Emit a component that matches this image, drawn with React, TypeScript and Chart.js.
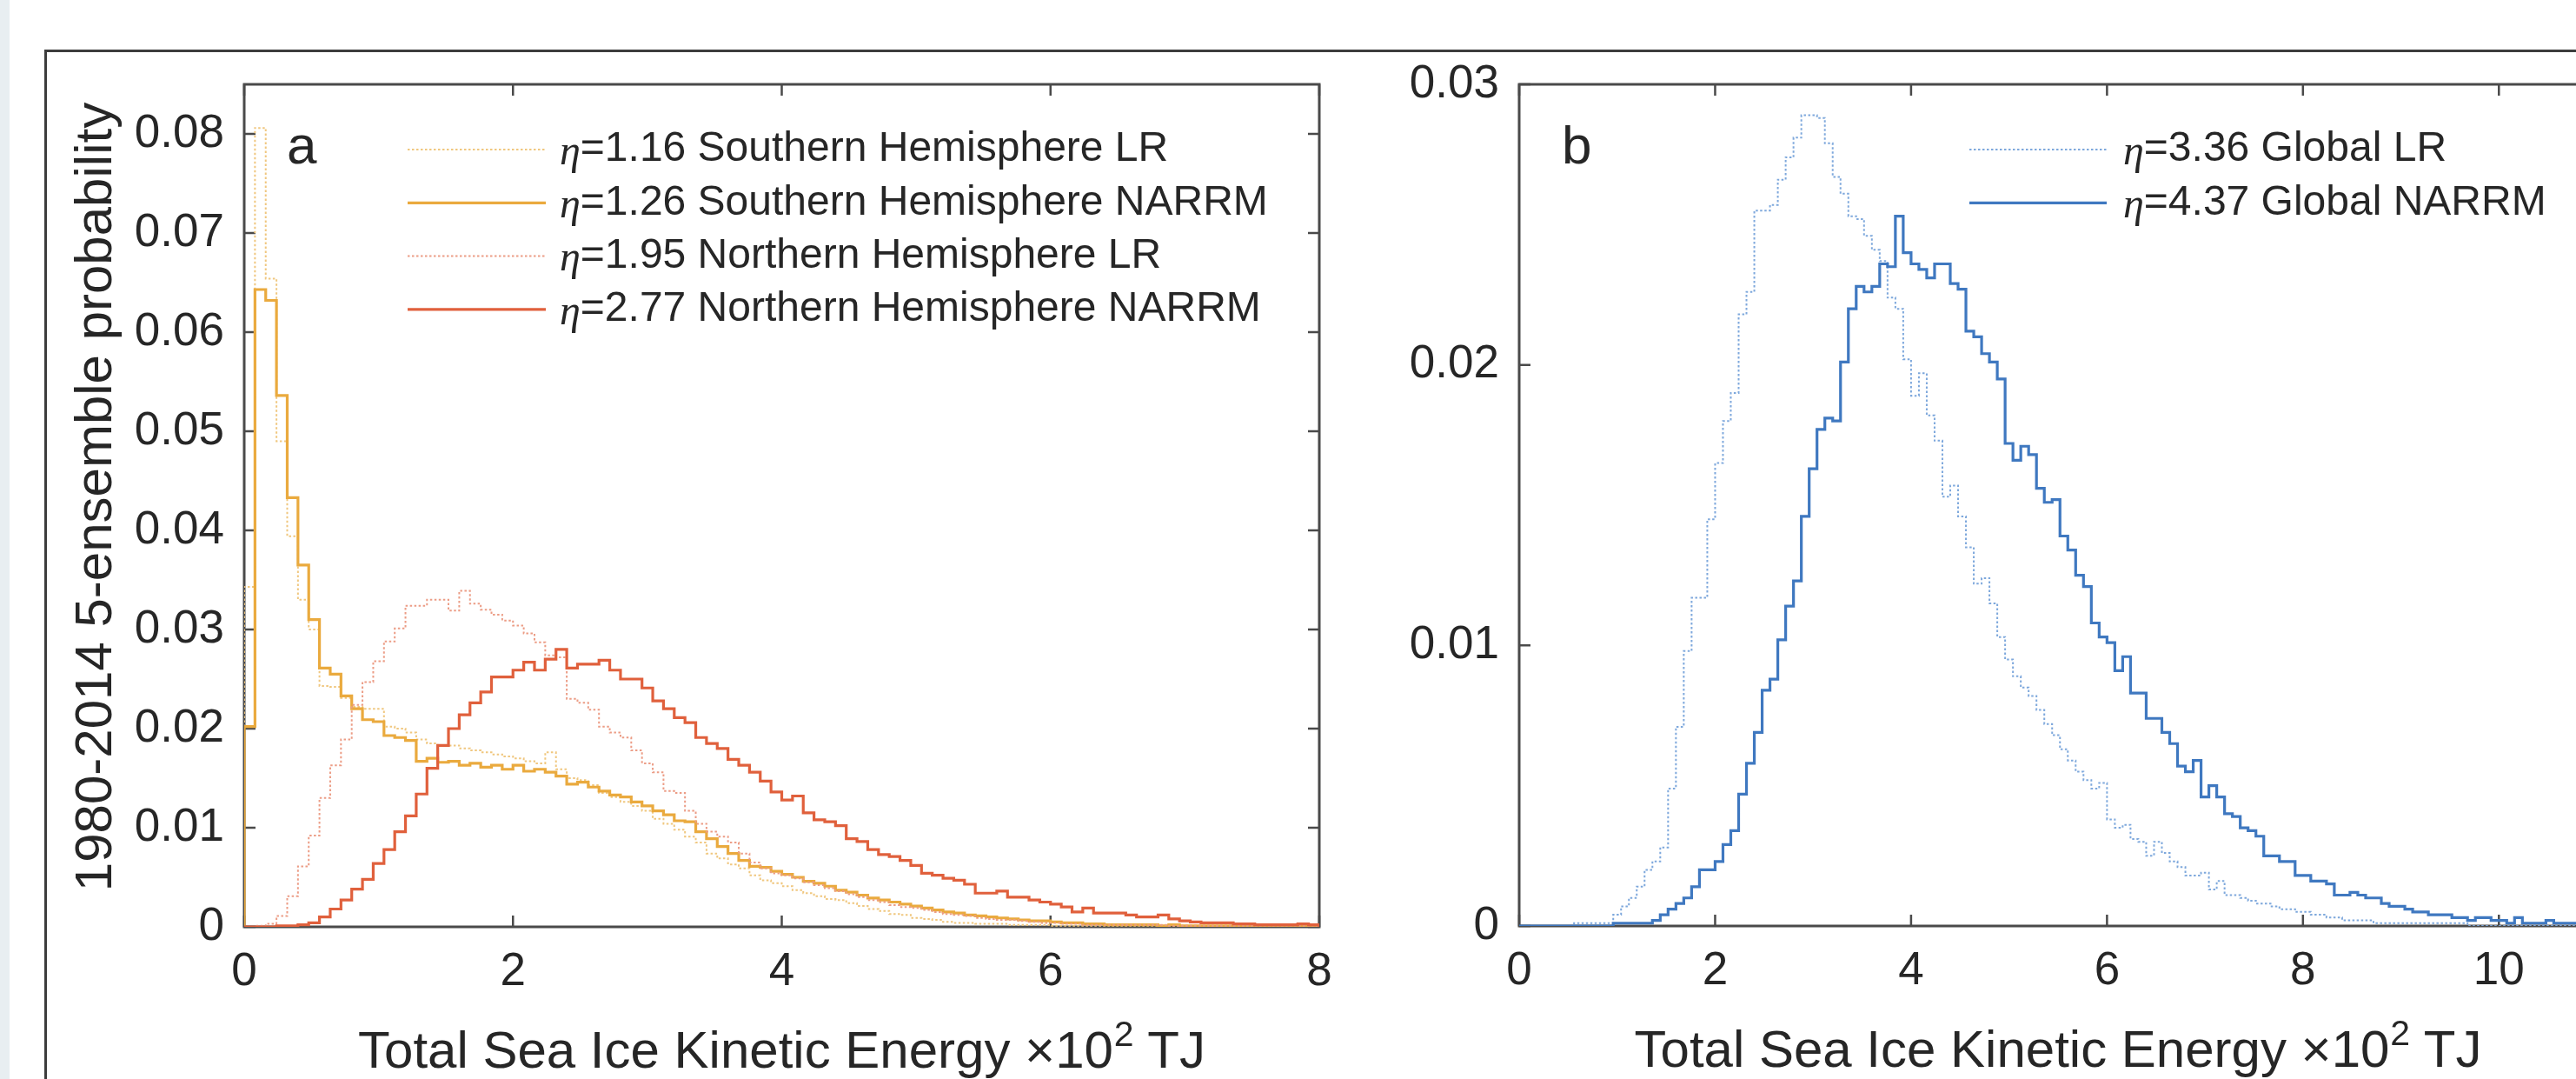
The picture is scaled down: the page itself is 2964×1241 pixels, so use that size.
import React, { useEffect, useRef } from 'react';
import { Chart, registerables } from 'chart.js';

Chart.register(...registerables);

// ---------------- data ----------------
const BIN_WIDTH = 0.08;

const A_X_RANGE = [0, 8];
const A_Y_RANGE = [0, 0.085];
const A_X_TICKS = [0, 2, 4, 6, 8];
const A_X_TICK_LABELS = ['0', '2', '4', '6', '8'];
const A_Y_TICKS = [0, 0.01, 0.02, 0.03, 0.04, 0.05, 0.06, 0.07, 0.08];
const A_Y_TICK_LABELS = ['0', '0.01', '0.02', '0.03', '0.04', '0.05', '0.06', '0.07', '0.08'];

const B_X_RANGE = [0, 11];
const B_Y_RANGE = [0, 0.03];
const B_X_TICKS = [0, 2, 4, 6, 8, 10];
const B_X_TICK_LABELS = ['0', '2', '4', '6', '8', '10'];
const B_Y_TICKS = [0, 0.01, 0.02, 0.03];
const B_Y_TICK_LABELS = ['0', '0.01', '0.02', '0.03'];

const A_ETA = ['1.16', '1.26', '1.95', '2.77'];
const A_NAMES = ['Southern Hemisphere LR', 'Southern Hemisphere NARRM', 'Northern Hemisphere LR', 'Northern Hemisphere NARRM'];
const B_ETA = ['3.36', '4.37'];
const B_NAMES = ['Global LR', 'Global NARRM'];

const X_TITLE_MAIN = 'Total Sea Ice Kinetic Energy \u00d710';
const X_TITLE_SUP = '2';
const X_TITLE_TAIL = ' TJ';
const Y_TITLE = '1980-2014 5-ensemble probability';

const SH_LR = [
  0.0343, 0.0806, 0.0654, 0.0490, 0.0394, 0.0330, 0.0300, 0.0243, 0.0242, 0.0231,
  0.0222, 0.0220, 0.0220, 0.0202, 0.0200, 0.0196, 0.0189, 0.0185, 0.0183, 0.0183,
  0.0180, 0.0178, 0.0176, 0.0174, 0.0172, 0.0170, 0.0167, 0.0165, 0.0176, 0.0159,
  0.0150, 0.0148, 0.0143, 0.0135, 0.0131, 0.0126, 0.0122, 0.0117, 0.0109, 0.0104,
  0.0098, 0.0091, 0.0085, 0.0074, 0.0069, 0.0063, 0.0059, 0.0052, 0.0047, 0.0044,
  0.0041, 0.0037, 0.0034, 0.0031, 0.0028, 0.0027, 0.0024, 0.0021, 0.0018, 0.0016,
  0.0013, 0.0012, 0.0009, 0.0008, 0.0007, 0.0005, 0.0004, 0.0004, 0.0003, 0.0003,
  0.0003, 0.0002, 0.0002, 0.0002, 0.0002, 0.0001, 0.0001, 0.0001, 0.0001, 0.0001,
  0.0001, 0.0001, 0.0001, 0.0001, 0.0001, 0.0001, 0.0001, 0.0001, 0.0001, 0.0001,
  0.0001, 0.0001, 0.0001, 0.0000, 0.0001, 0.0000, 0.0000, 0.0001, 0.0000, 0.0000,
];

const SH_NARRM = [
  0.0202, 0.0643, 0.0632, 0.0536, 0.0433, 0.0365, 0.0310, 0.0261, 0.0255, 0.0233,
  0.0220, 0.0209, 0.0207, 0.0193, 0.0191, 0.0188, 0.0167, 0.0170, 0.0166, 0.0167,
  0.0163, 0.0165, 0.0161, 0.0163, 0.0159, 0.0163, 0.0157, 0.0159, 0.0156, 0.0152,
  0.0144, 0.0146, 0.0141, 0.0137, 0.0133, 0.0131, 0.0126, 0.0122, 0.0117, 0.0113,
  0.0107, 0.0106, 0.0096, 0.0089, 0.0081, 0.0074, 0.0067, 0.0061, 0.0060, 0.0056,
  0.0053, 0.0050, 0.0046, 0.0044, 0.0041, 0.0037, 0.0035, 0.0032, 0.0029, 0.0027,
  0.0025, 0.0023, 0.0021, 0.0019, 0.0017, 0.0015, 0.0014, 0.0012, 0.0011, 0.0010,
  0.0009, 0.0008, 0.0007, 0.0006, 0.0006, 0.0005, 0.0004, 0.0004, 0.0003, 0.0003,
  0.0002, 0.0002, 0.0002, 0.0002, 0.0002, 0.0001, 0.0002, 0.0001, 0.0001, 0.0001,
  0.0001, 0.0001, 0.0001, 0.0001, 0.0001, 0.0001, 0.0001, 0.0001, 0.0001, 0.0001,
];

const NH_LR = [
  0.0000, 0.0001, 0.0003, 0.0011, 0.0031, 0.0061, 0.0092, 0.0130, 0.0163, 0.0189,
  0.0224, 0.0247, 0.0268, 0.0288, 0.0301, 0.0324, 0.0324, 0.0330, 0.0330, 0.0319,
  0.0339, 0.0326, 0.0320, 0.0315, 0.0309, 0.0304, 0.0296, 0.0287, 0.0274, 0.0272,
  0.0230, 0.0226, 0.0219, 0.0202, 0.0196, 0.0191, 0.0178, 0.0165, 0.0156, 0.0137,
  0.0135, 0.0117, 0.0104, 0.0096, 0.0091, 0.0085, 0.0074, 0.0065, 0.0059, 0.0054,
  0.0052, 0.0049, 0.0045, 0.0042, 0.0039, 0.0036, 0.0033, 0.0030, 0.0027, 0.0025,
  0.0022, 0.0020, 0.0019, 0.0017, 0.0015, 0.0013, 0.0012, 0.0011, 0.0009, 0.0008,
  0.0007, 0.0007, 0.0006, 0.0005, 0.0004, 0.0004, 0.0003, 0.0003, 0.0002, 0.0002,
  0.0002, 0.0002, 0.0002, 0.0002, 0.0002, 0.0002, 0.0001, 0.0001, 0.0001, 0.0001,
  0.0001, 0.0001, 0.0001, 0.0001, 0.0001, 0.0001, 0.0001, 0.0001, 0.0001, 0.0001,
];

const NH_NARRM = [
  0.0000, 0.0000, 0.0000, 0.0001, 0.0001, 0.0002, 0.0004, 0.0010, 0.0018, 0.0027,
  0.0038, 0.0048, 0.0064, 0.0078, 0.0096, 0.0112, 0.0134, 0.0160, 0.0183, 0.0200,
  0.0214, 0.0226, 0.0237, 0.0252, 0.0252, 0.0259, 0.0267, 0.0259, 0.0270, 0.0280,
  0.0261, 0.0265, 0.0265, 0.0269, 0.0259, 0.0250, 0.0250, 0.0241, 0.0228, 0.0220,
  0.0211, 0.0206, 0.0191, 0.0185, 0.0180, 0.0169, 0.0163, 0.0156, 0.0147, 0.0136,
  0.0128, 0.0132, 0.0115, 0.0108, 0.0106, 0.0102, 0.0089, 0.0086, 0.0078, 0.0073,
  0.0071, 0.0067, 0.0062, 0.0054, 0.0052, 0.0049, 0.0047, 0.0043, 0.0034, 0.0034,
  0.0036, 0.0030, 0.0030, 0.0027, 0.0025, 0.0023, 0.0020, 0.0015, 0.0019, 0.0014,
  0.0014, 0.0014, 0.0012, 0.0010, 0.0010, 0.0012, 0.0008, 0.0006, 0.0005, 0.0004,
  0.0004, 0.0004, 0.0003, 0.0003, 0.0002, 0.0002, 0.0002, 0.0002, 0.0003, 0.0002,
];

const GLOBAL_LR = [
  0, 0, 0, 0, 0, 0, 0, 0.0001, 0.0001, 0.0001,
  0.0001, 0.0001, 0.0004, 0.0007, 0.0010, 0.0014, 0.0020, 0.0023, 0.0028, 0.0049,
  0.0071, 0.0098, 0.0117, 0.0117, 0.0145, 0.0165, 0.0180, 0.0190, 0.0218, 0.0226,
  0.0255, 0.0255, 0.0257, 0.0266, 0.0274, 0.0281, 0.0289, 0.0289, 0.0288, 0.0279,
  0.0267, 0.0261, 0.0253, 0.0252, 0.0246, 0.0241, 0.0237, 0.0224, 0.0220, 0.0202,
  0.0189, 0.0197, 0.0182, 0.0173, 0.0153, 0.0157, 0.0146, 0.0135, 0.0122, 0.0124,
  0.0115, 0.0103, 0.0095, 0.0089, 0.0085, 0.0082, 0.0077, 0.0072, 0.0068, 0.0063,
  0.0059, 0.0055, 0.0052, 0.0049, 0.0051, 0.0038, 0.0035, 0.0036, 0.0031, 0.0030,
  0.0025, 0.0030, 0.0026, 0.0023, 0.0021, 0.0018, 0.0018, 0.0019, 0.0013, 0.0016,
  0.0011, 0.0011, 0.0010, 0.0009, 0.0008, 0.0008, 0.0007, 0.0006, 0.0006, 0.0005,
  0.0005, 0.0004, 0.0004, 0.0003, 0.0003, 0.0002, 0.0002, 0.0002, 0.0002, 0.0001,
  0.0001, 0.0001, 0.0001, 0.0001, 0.0001, 0.0001, 0.0001, 0.0001, 0.0001, 0.0001,
  0.0001, 0, 0, 0, 0, 0, 0, 0, 0, 0,
  0, 0, 0, 0, 0, 0, 0,
];

const GLOBAL_NARRM = [
  0, 0, 0, 0, 0, 0, 0, 0, 0, 0,
  0, 0, 0.0001, 0.0001, 0.0001, 0.0001, 0.0001, 0.0002, 0.0004, 0.0006,
  0.0008, 0.0010, 0.0014, 0.0020, 0.0020, 0.0023, 0.0029, 0.0034, 0.0047, 0.0058,
  0.0069, 0.0084, 0.0088, 0.0102, 0.0114, 0.0123, 0.0146, 0.0163, 0.0177, 0.0181,
  0.0180, 0.0201, 0.0220, 0.0228, 0.0226, 0.0228, 0.0236, 0.0235, 0.0253, 0.0240,
  0.0236, 0.0234, 0.0231, 0.0236, 0.0236, 0.0229, 0.0227, 0.0212, 0.0210, 0.0204,
  0.0201, 0.0195, 0.0172, 0.0166, 0.0171, 0.0168, 0.0156, 0.0151, 0.0152, 0.0139,
  0.0134, 0.0125, 0.0121, 0.0108, 0.0103, 0.0101, 0.0091, 0.0096, 0.0083, 0.0083,
  0.0074, 0.0074, 0.0069, 0.0065, 0.0057, 0.0055, 0.0059, 0.0046, 0.0050, 0.0046,
  0.0040, 0.0039, 0.0035, 0.0034, 0.0032, 0.0025, 0.0025, 0.0023, 0.0023, 0.0018,
  0.0018, 0.0016, 0.0016, 0.0015, 0.0011, 0.0011, 0.0012, 0.0011, 0.0010, 0.0010,
  0.0008, 0.0007, 0.0007, 0.0006, 0.0005, 0.0005, 0.0004, 0.0004, 0.0004, 0.0003,
  0.0003, 0.0002, 0.0003, 0.0003, 0.0002, 0.0002, 0.0001, 0.0003, 0.0001, 0.0001,
  0.0001, 0.0002, 0.0001, 0.0001, 0.0001, 0.0001, 0.0001,
];

// ---------------- styles ----------------
const SANS = '"Liberation Sans", Arial, Helvetica, sans-serif';
const SERIF = '"Liberation Serif", "Times New Roman", serif';
const AXIS_COLOR = '#4a4a4a';
const TEXT_COLOR = '#262626';
const TICK_FONT = 53;
const LEGEND_FONT = 48;
const TITLE_FONT = 60;
const SUP_FONT = 41;
const LETTER_FONT = 62;
const TICK_LEN = 13;

type LineStyle = { color: string; width: number; dash: number[] };
const STYLE_SH_LR: LineStyle = { color: '#F0C77F', width: 2, dash: [2.5, 2.5] };
const STYLE_SH_NARRM: LineStyle = { color: '#EAAA3E', width: 3.2, dash: [] };
const STYLE_NH_LR: LineStyle = { color: '#EC9D86', width: 2, dash: [2.5, 2.5] };
const STYLE_NH_NARRM: LineStyle = { color: '#E0603C', width: 3.2, dash: [] };
const STYLE_G_LR: LineStyle = { color: '#7EA8DC', width: 2, dash: [2.5, 2.5] };
const STYLE_G_NARRM: LineStyle = { color: '#3F78C0', width: 3.2, dash: [] };

type Series = { values: number[]; style: LineStyle; eta: string; name: string };

type PanelCfg = {
  letter: string;
  canvasLeft: number;
  canvasWidth: number;
  padding: { left: number; right: number; top: number; bottom: number };
  yAxisWidth: number;
  xAxisHeight: number;
  xRange: number[];
  yRange: number[];
  xTicks: number[];
  xTickLabels: string[];
  yTicks: number[];
  yTickLabels: string[];
  series: Series[];
  legendLineX0: number;
  legendLineX1: number;
  legendTextX: number;
  legendTop: number;
  legendGap: number;
  yTitle: boolean;
};

const CANVAS_H = 1241;

const PANEL_A: PanelCfg = {
  letter: 'a',
  canvasLeft: 0,
  canvasWidth: 1650,
  padding: { left: 81, right: 132, top: 97, bottom: 75 },
  yAxisWidth: 200,
  xAxisHeight: 100,
  xRange: A_X_RANGE,
  yRange: A_Y_RANGE,
  xTicks: A_X_TICKS,
  xTickLabels: A_X_TICK_LABELS,
  yTicks: A_Y_TICKS,
  yTickLabels: A_Y_TICK_LABELS,
  series: [
    { values: SH_LR, style: STYLE_SH_LR, eta: A_ETA[0], name: A_NAMES[0] },
    { values: SH_NARRM, style: STYLE_SH_NARRM, eta: A_ETA[1], name: A_NAMES[1] },
    { values: NH_LR, style: STYLE_NH_LR, eta: A_ETA[2], name: A_NAMES[2] },
    { values: NH_NARRM, style: STYLE_NH_NARRM, eta: A_ETA[3], name: A_NAMES[3] },
  ],
  legendLineX0: 188,
  legendLineX1: 347,
  legendTextX: 363,
  legendTop: 75,
  legendGap: 61.3,
  yTitle: true,
};

const PANEL_B: PanelCfg = {
  letter: 'b',
  canvasLeft: 1560,
  canvasWidth: 1540,
  padding: { left: 8, right: 112, top: 97, bottom: 76 },
  yAxisWidth: 180,
  xAxisHeight: 100,
  xRange: B_X_RANGE,
  yRange: B_Y_RANGE,
  xTicks: B_X_TICKS,
  xTickLabels: B_X_TICK_LABELS,
  yTicks: B_Y_TICKS,
  yTickLabels: B_Y_TICK_LABELS,
  series: [
    { values: GLOBAL_LR, style: STYLE_G_LR, eta: B_ETA[0], name: B_NAMES[0] },
    { values: GLOBAL_NARRM, style: STYLE_G_NARRM, eta: B_ETA[1], name: B_NAMES[1] },
  ],
  legendLineX0: 518,
  legendLineX1: 676,
  legendTextX: 695,
  legendTop: 75,
  legendGap: 61.3,
  yTitle: false,
};

// histogram outline (stairs) built from bin values
function stairs(values: number[]) {
  const pts: { x: number; y: number }[] = [{ x: 0, y: 0 }];
  values.forEach((v, i) => {
    pts.push({ x: i * BIN_WIDTH, y: v });
    pts.push({ x: (i + 1) * BIN_WIDTH, y: v });
  });
  pts.push({ x: values.length * BIN_WIDTH, y: 0 });
  return pts;
}

function makeDecor(cfg: PanelCfg) {
  return {
    id: 'decor_' + cfg.letter,
    beforeDatasetsDraw(chart: any) {
      const { ctx, chartArea: a, scales } = chart;
      const sx = scales.x;
      const sy = scales.y;
      ctx.save();
      ctx.strokeStyle = AXIS_COLOR;
      ctx.lineWidth = 2.5;
      ctx.beginPath();
      cfg.xTicks.forEach((v) => {
        const p = sx.getPixelForValue(v);
        ctx.moveTo(p, a.bottom);
        ctx.lineTo(p, a.bottom - TICK_LEN);
        ctx.moveTo(p, a.top);
        ctx.lineTo(p, a.top + TICK_LEN);
      });
      cfg.yTicks.forEach((v) => {
        const p = sy.getPixelForValue(v);
        ctx.moveTo(a.left, p);
        ctx.lineTo(a.left + TICK_LEN, p);
        ctx.moveTo(a.right, p);
        ctx.lineTo(a.right - TICK_LEN, p);
      });
      ctx.stroke();
      ctx.lineWidth = 3;
      ctx.strokeRect(a.left, a.top, a.right - a.left, a.bottom - a.top);
      ctx.restore();
    },
    afterDraw(chart: any) {
      const { ctx, chartArea: a } = chart;
      ctx.save();
      ctx.fillStyle = TEXT_COLOR;
      // panel letter
      ctx.textAlign = 'left';
      ctx.textBaseline = 'alphabetic';
      ctx.font = `${LETTER_FONT}px ${SANS}`;
      ctx.fillText(cfg.letter, a.left + 49, a.top + 91);
      // legend
      cfg.series.forEach((s, i) => {
        const y = a.top + cfg.legendTop + i * cfg.legendGap;
        ctx.strokeStyle = s.style.color;
        ctx.lineWidth = s.style.width;
        ctx.setLineDash(s.style.dash);
        ctx.beginPath();
        ctx.moveTo(a.left + cfg.legendLineX0, y);
        ctx.lineTo(a.left + cfg.legendLineX1, y);
        ctx.stroke();
        ctx.setLineDash([]);
        ctx.textBaseline = 'middle';
        let tx = a.left + cfg.legendTextX;
        ctx.font = `italic ${LEGEND_FONT}px ${SERIF}`;
        ctx.fillText('\u03b7', tx, y + 4);
        tx += ctx.measureText('\u03b7').width;
        ctx.font = `${LEGEND_FONT}px ${SANS}`;
        ctx.fillText('=' + s.eta + ' ' + s.name, tx, y);
      });
      // x title with superscript
      ctx.textBaseline = 'alphabetic';
      ctx.font = `${TITLE_FONT}px ${SANS}`;
      const w1 = ctx.measureText(X_TITLE_MAIN).width;
      const w3 = ctx.measureText(X_TITLE_TAIL).width;
      ctx.font = `${SUP_FONT}px ${SANS}`;
      const w2 = ctx.measureText(X_TITLE_SUP).width;
      const by = a.bottom + 162;
      const x0 = (a.left + a.right) / 2 - (w1 + w2 + w3) / 2;
      ctx.font = `${TITLE_FONT}px ${SANS}`;
      ctx.fillText(X_TITLE_MAIN, x0, by);
      ctx.font = `${SUP_FONT}px ${SANS}`;
      ctx.fillText(X_TITLE_SUP, x0 + w1 + 1, by - 25);
      ctx.font = `${TITLE_FONT}px ${SANS}`;
      ctx.fillText(X_TITLE_TAIL, x0 + w1 + w2, by);
      // y title
      if (cfg.yTitle) {
        ctx.translate(a.left - 153, (a.top + a.bottom) / 2 - 10);
        ctx.rotate(-Math.PI / 2);
        ctx.textAlign = 'center';
        ctx.font = `${TITLE_FONT}px ${SANS}`;
        ctx.fillText(Y_TITLE, 0, 0);
      }
      ctx.restore();
    },
  };
}

function Panel({ cfg }: { cfg: PanelCfg }) {
  const ref = useRef<HTMLCanvasElement>(null);
  useEffect(() => {
    if (!ref.current) return;
    const datasets = cfg.series
      .map((s) => ({
        data: stairs(s.values),
        borderColor: s.style.color,
        borderWidth: s.style.width,
        borderDash: s.style.dash,
        pointRadius: 0,
        pointHoverRadius: 0,
        fill: false,
        tension: 0,
      }))
      .reverse();
    const chart = new Chart(ref.current, {
      type: 'line',
      data: { datasets },
      options: {
        animation: false,
        responsive: false,
        devicePixelRatio: 1,
        events: [],
        layout: { padding: cfg.padding },
        plugins: {
          legend: { display: false },
          tooltip: { enabled: false },
          title: { display: false },
        },
        scales: {
          x: {
            type: 'linear',
            min: cfg.xRange[0],
            max: cfg.xRange[1],
            grid: { display: false, drawTicks: false },
            border: { display: false },
            afterBuildTicks: (scale: any) => {
              scale.ticks = cfg.xTicks.map((v) => ({ value: v }));
            },
            afterFit: (scale: any) => {
              scale.height = cfg.xAxisHeight;
            },
            ticks: {
              autoSkip: false,
              maxRotation: 0,
              minRotation: 0,
              padding: 21,
              color: TEXT_COLOR,
              font: { family: SANS, size: TICK_FONT },
              callback: (value: any, index: number) => cfg.xTickLabels[index],
            },
          },
          y: {
            type: 'linear',
            min: cfg.yRange[0],
            max: cfg.yRange[1],
            grid: { display: false, drawTicks: false },
            border: { display: false },
            afterBuildTicks: (scale: any) => {
              scale.ticks = cfg.yTicks.map((v) => ({ value: v }));
            },
            afterFit: (scale: any) => {
              scale.width = cfg.yAxisWidth;
            },
            ticks: {
              autoSkip: false,
              padding: 23,
              color: TEXT_COLOR,
              font: { family: SANS, size: TICK_FONT },
              callback: (value: any, index: number) => cfg.yTickLabels[index],
            },
          },
        },
      },
      plugins: [makeDecor(cfg)],
    } as any);
    return () => chart.destroy();
  }, [cfg]);
  return (
    <canvas
      ref={ref}
      width={cfg.canvasWidth}
      height={CANVAS_H}
      style={{ position: 'absolute', left: cfg.canvasLeft, top: 0, width: cfg.canvasWidth, height: CANVAS_H }}
    />
  );
}

export default function App() {
  return (
    <div
      style={{
        position: 'fixed',
        left: 0,
        top: 0,
        width: 2964,
        height: 1241,
        overflow: 'hidden',
        background: '#ffffff',
      }}
    >
      <div style={{ position: 'absolute', left: 0, top: 0, width: 11, height: 1241, background: '#e8eef1' }} />
      <div
        style={{
          position: 'absolute',
          left: 51,
          top: 57,
          width: 3100,
          height: 1400,
          borderLeft: '3px solid #3d3d3d',
          borderTop: '3px solid #3d3d3d',
          boxSizing: 'border-box',
        }}
      />
      <Panel cfg={PANEL_A} />
      <Panel cfg={PANEL_B} />
    </div>
  );
}
